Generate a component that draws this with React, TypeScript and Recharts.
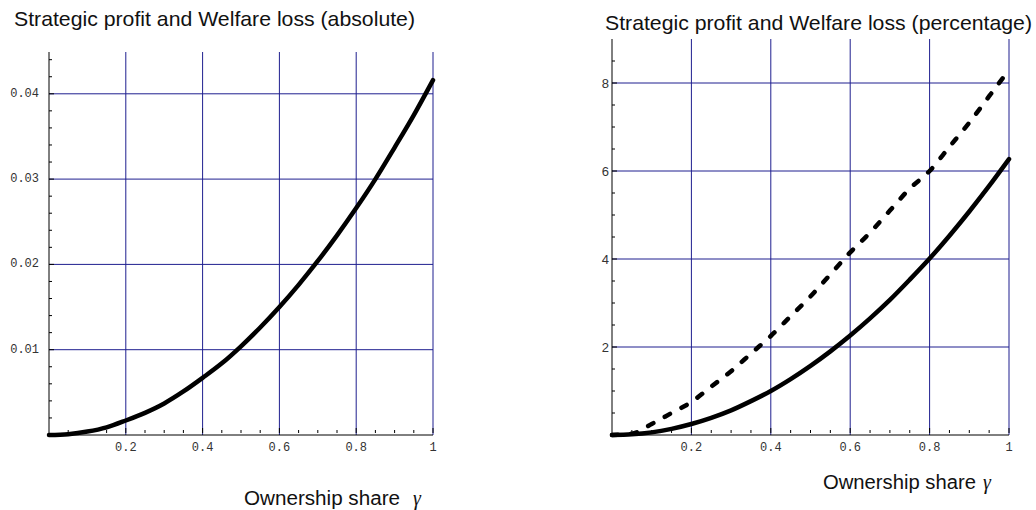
import React from "react";
import { LineChart, Line, XAxis, YAxis, ReferenceLine } from "recharts";

const GAMMA = [0, 0.05, 0.1, 0.15, 0.2, 0.25, 0.3, 0.35, 0.4, 0.45, 0.5, 0.55, 0.6, 0.65, 0.7, 0.75, 0.8, 0.85, 0.9, 0.95, 1.0];
const ABS_LOSS = [0, 0.0001, 0.0004, 0.0009, 0.0017, 0.0026, 0.0037, 0.0051, 0.0067, 0.0084, 0.0104, 0.0126, 0.015, 0.0176, 0.0204, 0.0234, 0.0266, 0.03, 0.0337, 0.0375, 0.0416];
const PCT_SOLID = [0, 0.015, 0.06, 0.14, 0.25, 0.39, 0.56, 0.77, 1.0, 1.27, 1.57, 1.9, 2.26, 2.65, 3.07, 3.53, 4.01, 4.53, 5.08, 5.66, 6.27];
const PCT_DASHED = [0, 0.03, 0.25, 0.5, 0.75, 1.1, 1.45, 1.85, 2.25, 2.7, 3.15, 3.65, 4.15, 4.6, 5.1, 5.6, 6.0, 6.55, 7.1, 7.7, 8.3];

const X_MAJOR = [0.2, 0.4, 0.6, 0.8, 1];
const X_TICKS = [0.05, 0.1, 0.15, 0.2, 0.25, 0.3, 0.35, 0.4, 0.45, 0.5, 0.55, 0.6, 0.65, 0.7, 0.75, 0.8, 0.85, 0.9, 0.95, 1];
const ABS_Y_MAJOR = [0.01, 0.02, 0.03, 0.04];
const ABS_Y_TICKS = [0.002, 0.004, 0.006, 0.008, 0.01, 0.012, 0.014, 0.016, 0.018, 0.02, 0.022, 0.024, 0.026, 0.028, 0.03, 0.032, 0.034, 0.036, 0.038, 0.04, 0.042, 0.044];
const PCT_Y_MAJOR = [2, 4, 6, 8];
const PCT_Y_TICKS = [0.5, 1, 1.5, 2, 2.5, 3, 3.5, 4, 4.5, 5, 5.5, 6, 6.5, 7, 7.5, 8, 8.5];

const TITLE_ABS = "Strategic profit and Welfare loss (absolute)";
const TITLE_PCT = "Strategic profit and Welfare loss (percentage)";
const X_LABEL = "Ownership share";
const GAMMA_SYM = "γ";

const absData = GAMMA.map((g, i) => ({ g, v: ABS_LOSS[i] }));
const pctData = GAMMA.map((g, i) => ({ g, solid: PCT_SOLID[i], dashed: PCT_DASHED[i] }));

const GRID = "#1f1f8f";
const TICK_FONT = "'Liberation Mono', monospace";
const SANS = "'Liberation Sans', Arial, sans-serif";
const SERIF = "'Liberation Serif', serif";

const isIn = (arr: number[], v: number) => arr.some((a) => Math.abs(a - v) < 1e-9);

const makeXTick = (fmt: (v: number) => string) => (props: any) => {
  const { x, y, payload } = props;
  const v = payload.value;
  const major = isIn(X_MAJOR, v);
  const m = 4;
  const ay = y - m;
  return (
    <g>
      <line x1={x} y1={ay} x2={x} y2={ay - (major ? 5 : 3)} stroke="#000" strokeWidth={1} />
      {major && (
        <text x={x} y={ay + 18} textAnchor="middle" fontFamily={TICK_FONT} fontSize={12} fill="#333">
          {fmt(v)}
        </text>
      )}
    </g>
  );
};

const makeYTick = (majors: number[], fmt: (v: number) => string, margin: number, font: string, size: number) => (props: any) => {
  const { x, y, payload } = props;
  const v = payload.value;
  const major = isIn(majors, v);
  const ax = x + margin;
  return (
    <g>
      <line x1={ax} y1={y} x2={ax + (major ? 5 : 3)} y2={y} stroke="#000" strokeWidth={1} />
      {major && (
        <text x={x} y={y} textAnchor="end" dominantBaseline="central" fontFamily={font} fontSize={size} fill="#333">
          {fmt(v)}
        </text>
      )}
    </g>
  );
};

const xFmt = (v: number) => (Math.abs(v - 1) < 1e-9 ? "1" : String(v));

export default function App() {
  return (
    <div style={{ position: "absolute", left: 0, top: 0, width: 1036, height: 510, background: "#fff" }}>
      <div style={{ position: "absolute", left: 0, top: 0 }}>
        <LineChart width={460} height={510} data={absData} margin={{ top: 52, right: 27, bottom: 0, left: 0 }}>
          <XAxis
            dataKey="g"
            type="number"
            domain={[0, 1]}
            ticks={X_TICKS}
            interval={0}
            tickSize={0}
            tickLine={false}
            axisLine={{ stroke: "#000" }}
            height={75}
            tick={makeXTick(xFmt)}
          />
          <YAxis
            type="number"
            domain={[0, 0.0449]}
            ticks={ABS_Y_TICKS}
            interval={0}
            tickSize={0}
            tickMargin={10}
            tickLine={false}
            axisLine={{ stroke: "#000" }}
            width={49}
            tick={makeYTick(ABS_Y_MAJOR, (v) => v.toFixed(2), 10, TICK_FONT, 12)}
          />
          {X_MAJOR.map((v) => (
            <ReferenceLine key={"vx" + v} x={v} stroke={GRID} strokeWidth={1} />
          ))}
          {ABS_Y_MAJOR.map((v) => (
            <ReferenceLine key={"hy" + v} y={v} stroke={GRID} strokeWidth={1} />
          ))}
          <Line type="monotone" dataKey="v" stroke="#000" strokeWidth={4.5} dot={false} strokeLinecap="round" isAnimationActive={false} />
        </LineChart>
      </div>
      <div style={{ position: "absolute", left: 530, top: 0 }}>
        <LineChart width={506} height={510} data={pctData} margin={{ top: 39, right: 27, bottom: 0, left: 0 }}>
          <XAxis
            dataKey="g"
            type="number"
            domain={[0, 1]}
            ticks={X_TICKS}
            interval={0}
            tickSize={0}
            tickLine={false}
            axisLine={{ stroke: "#000" }}
            height={75}
            tick={makeXTick(xFmt)}
          />
          <YAxis
            type="number"
            domain={[0, 9]}
            ticks={PCT_Y_TICKS}
            interval={0}
            tickSize={0}
            tickMargin={3}
            tickLine={false}
            axisLine={{ stroke: "#000" }}
            width={82}
            tick={makeYTick(PCT_Y_MAJOR, (v) => String(v), 3, SANS, 13)}
          />
          {X_MAJOR.map((v) => (
            <ReferenceLine key={"vx" + v} x={v} stroke={GRID} strokeWidth={1} />
          ))}
          {PCT_Y_MAJOR.map((v) => (
            <ReferenceLine key={"hy" + v} y={v} stroke={GRID} strokeWidth={1} />
          ))}
          <Line type="monotone" dataKey="dashed" stroke="#000" strokeWidth={4.5} strokeDasharray="6 13" strokeLinecap="round" dot={false} isAnimationActive={false} />
          <Line type="monotone" dataKey="solid" stroke="#000" strokeWidth={4.5} strokeLinecap="round" dot={false} isAnimationActive={false} />
        </LineChart>
      </div>
      <svg width={1036} height={510} style={{ position: "absolute", left: 0, top: 0, pointerEvents: "none" }}>
        <text x={14} y={26} fontFamily={SANS} fontSize={21} fill="#111" textLength={401} lengthAdjust="spacingAndGlyphs">
          {TITLE_ABS}
        </text>
        <text x={605} y={30} fontFamily={SANS} fontSize={21} fill="#111" textLength={427} lengthAdjust="spacingAndGlyphs">
          {TITLE_PCT}
        </text>
        <text x={244} y={505} fontFamily={SANS} fontSize={20} fill="#111" textLength={156} lengthAdjust="spacingAndGlyphs">
          {X_LABEL}
        </text>
        <text x={413} y={505} fontFamily={SERIF} fontStyle="italic" fontSize={20} fill="#111">
          {GAMMA_SYM}
        </text>
        <text x={823} y={489} fontFamily={SANS} fontSize={20} fill="#111" textLength={153} lengthAdjust="spacingAndGlyphs">
          {X_LABEL}
        </text>
        <text x={983} y={489} fontFamily={SERIF} fontStyle="italic" fontSize={20} fill="#111">
          {GAMMA_SYM}
        </text>
      </svg>
    </div>
  );
}
